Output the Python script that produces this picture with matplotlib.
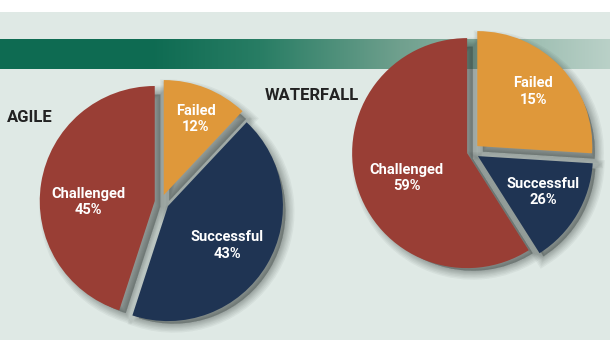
import numpy as np
import matplotlib
matplotlib.use("Agg")
import matplotlib.pyplot as plt
import matplotlib.patheffects as pe
from matplotlib.patches import Rectangle

# ---- data ----
categories = ["Challenged", "Successful", "Failed"]
agile_values = [45, 43, 12]
waterfall_values = [59, 26, 15]          # percentages printed on the chart
# slice sizes as actually drawn in the waterfall pie (read off the picture:
# the "Failed" slice is drawn larger than the "Successful" one)
waterfall_slices = [59, 15, 26]
titles = ["AGILE", "WATERFALL"]

# ---- style ----
W, H = 610, 355
colors = ["#993e35", "#1f3453", "#df983a"]
bg = "#dfe9e5"
FONT = ["Roboto", "DejaVu Sans"]

def Y(y_img):
    return H - y_img

fig = plt.figure(figsize=(6.1, 3.55), dpi=100)
fig.patch.set_facecolor("white")
ax = fig.add_axes([0, 0, 1, 1])

# background panel
ax.add_patch(Rectangle((0, Y(340)), W, 328, facecolor=bg, edgecolor="none", zorder=0))

# gradient band
xs = np.arange(W)
stops_x = [0, 150, 260, 400, 610]
stops_c = np.array([[14, 107, 82], [14, 107, 82], [40, 125, 100], [112, 160, 142], [186, 209, 200]]) / 255.0
grad = np.stack([np.interp(xs, stops_x, stops_c[:, i]) for i in range(3)], axis=-1)
ax.imshow(grad[None, :, :], extent=(0, W, Y(69), Y(39)), aspect="auto", zorder=1)

R = 115
pies = [
    dict(slices=agile_values, values=agile_values, center=(161, Y(202)),
         explode=[0.055, 0.07, 0.065],
         labels=[(0.58, 10), (0.62, -3), (0.72, -1)],
         title=titles[0], title_xy=(7, Y(118))),
    dict(slices=waterfall_slices, values=waterfall_values, center=(471, Y(152)),
         explode=[0.035, 0.07, 0.075],
         labels=[(0.57, 6), (0.65, 2), (0.68, 1)],
         title=titles[1], title_xy=(265, Y(96))),
]

shadow_fx = [pe.Stroke(offset=(4.0, -4.0), linewidth=w, foreground="#2a3331", alpha=0.055)
             for w in (13, 11, 9, 7, 5.5, 4, 2.5, 1)]

for p in pies:
    expl = [e * R for e in p["explode"]]
    # soft shadow
    sw, _ = ax.pie(p["slices"], explode=expl, startangle=90, counterclock=True,
                   radius=R - 3, center=p["center"], colors=["#2a3331"] * 3, frame=True,
                   wedgeprops=dict(linewidth=0))
    for w in sw:
        w.set_path_effects(shadow_fx)
        w.set_zorder(2)
    wedges, _ = ax.pie(p["slices"], explode=expl, startangle=90, counterclock=True,
                       radius=R, center=p["center"], colors=colors, frame=True,
                       wedgeprops=dict(linewidth=0))
    for w, cat, val, (frac, dth) in zip(wedges, categories, p["values"], p["labels"]):
        w.set_zorder(3)
        mid = np.deg2rad((w.theta1 + w.theta2) / 2 + dth)
        cx, cy = w.center
        lx = cx + frac * w.r * np.cos(mid)
        ly = cy + frac * w.r * np.sin(mid)
        ax.text(lx, ly, f"{cat}\n{val}%", ha="center", va="center", color="white",
                fontsize=10.5, fontweight="bold", family=FONT, linespacing=1.2, zorder=5)
    ax.text(p["title_xy"][0], p["title_xy"][1], p["title"], ha="left", va="center",
            color="#222222", fontsize=12, fontweight="bold", family=FONT, zorder=5)

ax.set_xlim(0, W)
ax.set_ylim(0, H)
ax.set_aspect("auto")
ax.axis("off")

fig.savefig("out.png", dpi=100, facecolor="white")
